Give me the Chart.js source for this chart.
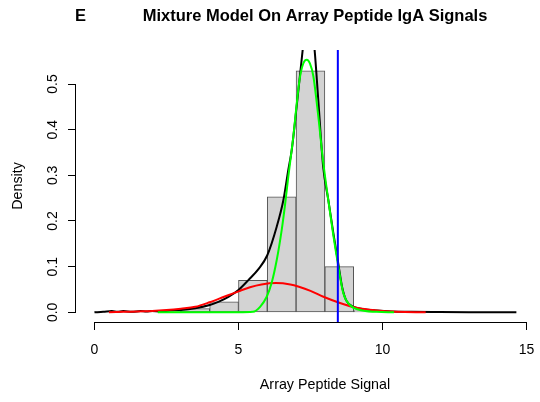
<!DOCTYPE html>
<html>
<head>
<meta charset="utf-8">
<script src="https://cdn.jsdelivr.net/npm/chart.js@4"></script>
<style>
  body { margin: 0; background: #fff; }
  canvas { display: block; }
</style>
</head>
<body>
<canvas id="mixtureChart" width="540" height="402"></canvas>
<script>
// histogram (bin width 1, density scale)
const binCenters = [0.5, 1.5, 2.5, 3.5, 4.5, 5.5, 6.5, 7.5, 8.5, 9.5];
const binDensity = [0.001, 0.001, 0.002, 0.008, 0.023, 0.070, 0.253, 0.529, 0.100, 0.004];

// kernel density of the signals (black)
const densX = [0, 0.3, 0.6, 0.8, 1.0, 1.3, 1.6, 1.8, 2.0, 2.3, 2.6, 3.0, 3.5, 4.0, 4.3, 4.65, 5.0, 5.35, 5.7, 6.0,
  6.33, 6.56, 6.73, 6.85, 7.02, 7.23, 7.35, 7.45, 7.55, 7.65, 7.77, 7.94, 8.12, 8.29, 8.47, 8.6, 8.75, 9.0,
  9.33, 9.8, 10.3, 11.0, 12.0, 13.0, 14.65];
const densY = [0.000, 0.001, 0.003, 0.001, 0.003, 0.001, 0.003, 0.002, 0.003, 0.002, 0.004, 0.005, 0.009, 0.016,
  0.023, 0.034, 0.049, 0.071, 0.095, 0.125, 0.188, 0.246, 0.312, 0.356, 0.451, 0.575, 0.64, 0.66, 0.63, 0.57,
  0.466, 0.319, 0.246, 0.175, 0.105, 0.055, 0.025, 0.012, 0.007, 0.004, 0.002, 0.001, 0.0005, 0.0002, 0.0];

// mixture component 1 (red, broad)
const redX = [0.5, 1.0, 1.5, 2.0, 2.5, 3.0, 3.5, 4.0, 4.5, 5.0, 5.4, 5.8, 6.3, 6.8, 7.1, 7.5, 7.95, 8.5, 9.1, 9.8, 10.5, 11.5];
const redY = [0.000, 0.001, 0.002, 0.003, 0.005, 0.008, 0.012, 0.022, 0.034, 0.046, 0.055, 0.061, 0.064, 0.061,
  0.056, 0.047, 0.034, 0.021, 0.010, 0.004, 0.001, 0.000];

// mixture component 2 (green, narrow)
const greenX = [2.2, 4.0, 5.0, 5.5, 5.75, 5.98, 6.15, 6.33, 6.5, 6.61, 6.73, 6.89, 7.12, 7.25, 7.37, 7.48, 7.6,
  7.77, 7.94, 8.12, 8.29, 8.47, 8.64, 8.87, 9.22, 9.8, 10.4];
const greenY = [0, 0, 0, 0.001, 0.012, 0.034, 0.064, 0.115, 0.180, 0.232, 0.297, 0.377, 0.509, 0.545, 0.553, 0.545,
  0.517, 0.43, 0.33, 0.245, 0.17, 0.100, 0.042, 0.016, 0.005, 0.001, 0];

// cutoff (blue vertical line)
const cutoff = 8.45;

const xTicks = [0, 5, 10, 15];
const xTickLabels = ['0', '5', '10', '15'];
const yTicks = [0, 0.1, 0.2, 0.3, 0.4, 0.5];
const yTickLabels = ['0.0', '0.1', '0.2', '0.3', '0.4', '0.5'];

const FONT = "'Liberation Sans', Arial, sans-serif";

function toPoints(xs, ys) {
  return xs.map((x, i) => ({ x: x, y: ys[i] }));
}

// R style axes: lines only between first and last tick, rotated y labels, titles
const rAxes = {
  id: 'rAxes',
  afterDraw(chart) {
    const ctx = chart.ctx;
    const sx = chart.scales.x;
    const sy = chart.scales.y;
    const area = chart.chartArea;
    ctx.save();
    ctx.strokeStyle = '#000';
    ctx.lineWidth = 1;

    const xb = Math.round(area.bottom) + 0.5;
    ctx.beginPath();
    ctx.moveTo(Math.round(sx.getPixelForValue(xTicks[0])), xb);
    ctx.lineTo(Math.round(sx.getPixelForValue(xTicks[xTicks.length - 1])) + 1, xb);
    ctx.stroke();

    const yl = Math.round(area.left) - 0.5;
    ctx.beginPath();
    ctx.moveTo(yl, Math.round(sy.getPixelForValue(yTicks[0])) + 1);
    ctx.lineTo(yl, Math.round(sy.getPixelForValue(yTicks[yTicks.length - 1])));
    ctx.stroke();

    ctx.fillStyle = '#000';
    ctx.font = '14px ' + FONT;
    ctx.textAlign = 'center';
    ctx.textBaseline = 'alphabetic';
    xTicks.forEach((v, i) => {
      ctx.fillText(xTickLabels[i], sx.getPixelForValue(v), 354);
    });
    yTicks.forEach((v, i) => {
      ctx.save();
      ctx.translate(56.5, sy.getPixelForValue(v));
      ctx.rotate(-Math.PI / 2);
      ctx.fillText(yTickLabels[i], 0, 0);
      ctx.restore();
    });

    ctx.font = '14.3px ' + FONT;
    ctx.save();
    ctx.translate(21.5, (area.top + area.bottom) / 2);
    ctx.rotate(-Math.PI / 2);
    ctx.fillText('Density', 0, 0);
    ctx.restore();
    ctx.fillText('Array Peptide Signal', 325, 389);

    ctx.font = 'bold 16.5px ' + FONT;
    ctx.fillText('Mixture Model On Array Peptide IgA Signals', 315, 21);
    ctx.textAlign = 'left';
    ctx.fillText('E', 75, 21);
    ctx.restore();
  }
};

const lineStyle = {
  type: 'line',
  borderWidth: 2,
  pointRadius: 0,
  fill: false,
  tension: 0.4,
  cubicInterpolationMode: 'monotone'
};

new Chart(document.getElementById('mixtureChart').getContext('2d'), {
  type: 'line',
  data: {
    datasets: [
      { ...lineStyle, label: 'cutoff', data: [{ x: cutoff, y: -0.1 }, { x: cutoff, y: 1 }],
        borderColor: '#0000FF', tension: 0, cubicInterpolationMode: 'default', order: 0 },
      { ...lineStyle, label: 'component 2', data: toPoints(greenX, greenY), borderColor: '#00FF00', order: 1 },
      { ...lineStyle, label: 'component 1', data: toPoints(redX, redY), borderColor: '#FF0000', order: 2 },
      { ...lineStyle, label: 'density', data: toPoints(densX, densY), borderColor: '#000000', order: 3 },
      {
        type: 'bar',
        label: 'histogram',
        data: toPoints(binCenters, binDensity),
        backgroundColor: '#D3D3D3',
        borderColor: '#555555',
        borderWidth: 1,
        borderSkipped: false,
        barPercentage: 1,
        categoryPercentage: 1,
        order: 4
      }
    ]
  },
  options: {
    responsive: false,
    animation: false,
    layout: { padding: { top: 50, left: 0, right: 0, bottom: 0 } },
    plugins: {
      legend: { display: false },
      tooltip: { enabled: false },
      title: { display: false }
    },
    scales: {
      x: {
        type: 'linear',
        offset: false,
        min: -0.642,
        max: 15.47,
        afterBuildTicks: scale => { scale.ticks = xTicks.map(v => ({ value: v })); },
        afterFit: scale => { scale.height = 80; },
        border: { display: false },
        grid: { drawOnChartArea: false, offset: false, color: '#000', tickLength: 8, lineWidth: 1 },
        ticks: { display: false }
      },
      y: {
        type: 'linear',
        min: -0.0212,
        max: 0.5745,
        afterBuildTicks: scale => { scale.ticks = yTicks.map(v => ({ value: v })); },
        afterFit: scale => { scale.width = 76; },
        border: { display: false },
        grid: { drawOnChartArea: false, color: '#000', tickLength: 8, lineWidth: 1 },
        ticks: { display: false }
      }
    }
  },
  plugins: [rAxes]
});
</script>
</body>
</html>
